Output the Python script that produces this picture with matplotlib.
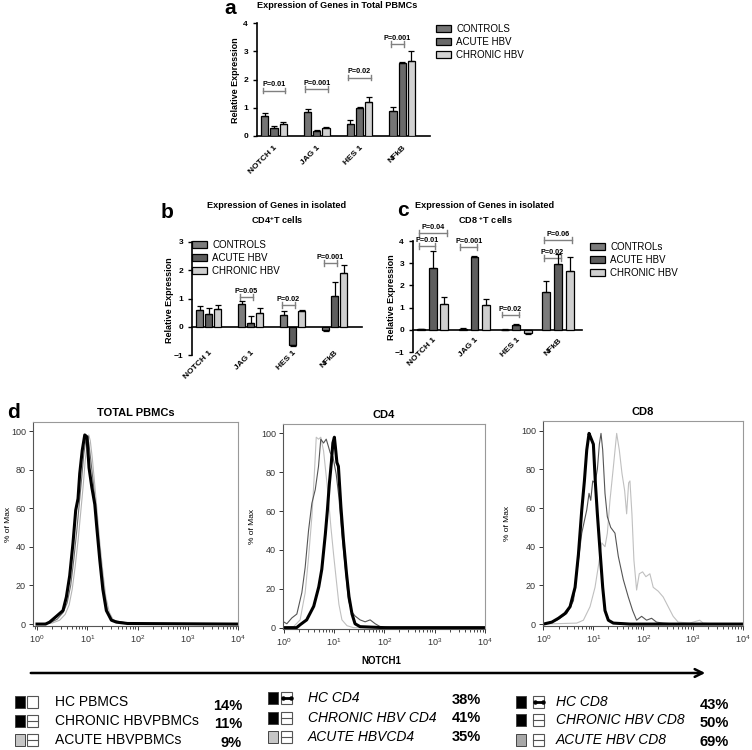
import numpy as np
import matplotlib
matplotlib.use("Agg")
import matplotlib.pyplot as plt
from matplotlib.patches import Rectangle, Patch

plt.rcParams['font.family'] = ['Liberation Sans', 'DejaVu Sans']
plt.rcParams['mathtext.default'] = 'regular'

W, H = 752, 750

genes = ["NOTCH 1", "JAG 1", "HES 1", "NFkB"]
groups = ["CONTROLS", "ACUTE HBV", "CHRONIC HBV"]

# panel a - total PBMCs
a_vals = [[0.70, 0.84, 0.41, 0.90],
          [0.29, 0.18, 1.00, 2.60],
          [0.41, 0.29, 1.19, 2.67]]
a_errs = [[0.12, 0.12, 0.17, 0.13],
          [0.06, 0.03, 0.03, 0.02],
          [0.08, 0.04, 0.19, 0.33]]
a_pvals = [(0, 0, 2, 1.61, "P=0.01"), (1, 0, 2, 1.66, "P=0.001"),
           (2, 0, 2, 2.07, "P=0.02"), (3, 0, 1, 3.25, "P=0.001")]

# panel b - CD4+ T cells
b_vals = [[0.59, 0.82, 0.41, -0.10],
          [0.45, 0.15, -0.65, 1.10],
          [0.64, 0.49, 0.56, 1.90]]
b_errs = [[0.14, 0.10, 0.15, 0.04],
          [0.22, 0.24, 0.03, 0.50],
          [0.12, 0.16, 0.03, 0.30]]
b_pvals = [(1, 0, 1, 1.05, "P=0.05"), (2, 0, 1, 0.78, "P=0.02"),
           (3, 0, 1, 2.26, "P=0.001")]

# panel c - CD8+ T cells
c_vals = [[0.02, 0.05, 0.01, 1.70],
          [2.80, 3.30, 0.20, 2.95],
          [1.18, 1.10, -0.15, 2.63]]
c_errs = [[0.01, 0.02, 0.01, 0.52],
          [0.75, 0.02, 0.08, 0.48],
          [0.32, 0.30, 0.02, 0.67]]
c_pvals = [(0, 0, 2, 4.36, "P=0.04"), (0, 0, 1, 3.77, "P=0.01"),
           (1, 0, 1, 3.73, "P=0.001"), (2, 0, 1, 0.68, "P=0.02"),
           (3, 0, 1, 3.23, "P=0.02"), (3, 0, 2, 4.05, "P=0.06")]

# panel d - NOTCH1 histograms (log10 intensity, % of max)
pbmc_hc_x = [0.0, 0.17, 0.25, 0.385, 0.517, 0.584, 0.65, 0.716, 0.77, 0.816, 0.85, 0.90, 0.95,
             0.995, 1.035, 1.09, 1.15, 1.19, 1.25, 1.31, 1.38, 1.48, 1.58, 1.8, 4.0]
pbmc_hc_y = [0, 0, 1, 4, 7, 14, 25, 42, 59, 65, 78, 90, 98, 97, 81, 71, 62, 50, 33, 18, 7, 2, 1, 0.3, 0]
pbmc_chr_x = [0.0, 0.25, 0.4, 0.52, 0.6, 0.67, 0.73, 0.79, 0.84, 0.89, 0.93, 0.97, 1.0, 1.03,
              1.07, 1.12, 1.17, 1.22, 1.28, 1.34, 1.4, 1.48, 1.6, 1.75, 2.0, 4.0]
pbmc_chr_y = [0, 0.5, 2.5, 6, 11, 20, 33, 48, 62, 76, 88, 95, 97, 94, 85, 73, 60, 45, 30, 16, 7,
              2.5, 1.5, 0.8, 0.3, 0]
pbmc_ac_x = [0.0, 0.3, 0.45, 0.56, 0.64, 0.7, 0.76, 0.82, 0.87, 0.92, 0.96, 1.0, 1.03, 1.06,
             1.1, 1.15, 1.2, 1.25, 1.31, 1.37, 1.44, 1.52, 1.65, 1.8, 2.1, 4.0]
pbmc_ac_y = [0, 0.5, 2, 5, 10, 18, 30, 44, 58, 72, 85, 94, 98, 95, 86, 72, 57, 42, 27, 14, 6, 2,
             1, 0.5, 0.2, 0]

cd4_hc_x = [0.0, 0.26, 0.33, 0.46, 0.60, 0.70, 0.76, 0.83, 0.87, 0.91, 0.95, 0.98, 1.01, 1.03,
            1.06, 1.09, 1.14, 1.19, 1.25, 1.30, 1.36, 1.42, 1.52, 2.0, 4.0]
cd4_hc_y = [0, 0, 1.5, 4, 11, 21, 30, 48, 60, 74, 85, 95, 98, 93, 85, 83, 62, 45, 28, 16, 7, 2,
            0.5, 0, 0]
cd4_chr_x = [0.0, 0.066, 0.166, 0.265, 0.364, 0.43, 0.497, 0.563, 0.63, 0.695, 0.74, 0.795,
             0.848, 0.894, 0.927, 0.98, 1.046, 1.10, 1.16, 1.225, 1.29, 1.36, 1.42, 1.52, 1.62,
             1.72, 1.82, 1.92, 2.12, 4.0]
cd4_chr_y = [3, 2, 5, 7, 18, 31, 50, 64, 71, 83, 97, 95, 97, 93, 90, 88, 79, 67, 48, 31, 14, 8,
             6, 4, 3, 4, 2, 0.5, 0, 0]
cd4_ac_x = [0.0, 0.2, 0.33, 0.43, 0.497, 0.563, 0.61, 0.65, 0.695, 0.74, 0.795, 0.848, 0.894,
            0.94, 0.993, 1.046, 1.10, 1.16, 1.26, 1.39, 4.0]
cd4_ac_y = [0, 0.5, 4, 18, 36, 57, 78, 98, 97, 98, 91, 78, 66, 52, 38, 25, 12, 4, 1, 0, 0]

cd8_hc_x = [0.0, 0.167, 0.30, 0.433, 0.533, 0.633, 0.70, 0.767, 0.82, 0.867, 0.913, 0.953, 1.0,
            1.04, 1.08, 1.133, 1.187, 1.233, 1.30, 1.40, 1.733, 4.0]
cd8_hc_y = [0, 1, 3, 5.5, 9, 19, 36, 59, 74, 90, 98.6, 96, 93, 73, 57, 38, 19, 7, 2, 0.5, 0, 0]
cd8_chr_x = [0.0, 0.267, 0.467, 0.60, 0.70, 0.767, 0.867, 0.913, 0.947, 0.987, 1.033, 1.08, 1.12,
             1.153, 1.187, 1.233, 1.28, 1.347, 1.433, 1.50, 1.60, 1.70, 1.787, 1.867, 1.967,
             2.067, 2.167, 2.267, 2.40, 2.667, 4.0]
cd8_chr_y = [0, 2, 5.5, 12, 33, 47, 59, 67.6, 64, 74, 73, 80, 93, 98.6, 90, 67.6, 55.5, 50, 47,
             35, 23, 14, 7, 2, 4, 2, 3, 1, 0.5, 0, 0]
cd8_ac_x = [0.0, 0.667, 0.80, 0.933, 1.033, 1.10, 1.167, 1.233, 1.28, 1.333, 1.40, 1.467, 1.52,
            1.573, 1.627, 1.667, 1.707, 1.733, 1.773, 1.813, 1.867, 1.92, 1.987, 2.053, 2.133,
            2.20, 2.30, 2.40, 2.50, 2.60, 2.70, 2.933, 3.133, 3.20, 3.467, 4.0]
cd8_ac_y = [0, 0.5, 2, 9, 19, 30, 42, 40, 47, 64, 81, 98.6, 90, 78, 69, 57, 73, 74, 57, 33, 17.6,
            26, 27, 24.5, 26, 19, 17, 14, 9, 4, 1, 0.5, 2, 0.5, 0, 0]

legend_rows = [
    ["HC PBMCS", "CHRONIC HBVPBMCs", "ACUTE HBVPBMCs"],
    ["HC CD4", "CHRONIC HBV CD4", "ACUTE HBVCD4"],
    ["HC CD8", "CHRONIC HBV CD8", "ACUTE HBV CD8"],
]
legend_pcts = [["14%", "11%", "9%"], ["38%", "41%", "35%"], ["43%", "50%", "69%"]]


def px(x, y, w, h):
    return [x / W, 1 - (y + h) / H, w / W, h / H]


def bar_panel(ax, vals, errs, pvals, colors, ylim, d, w, pad):
    x = np.arange(len(genes))
    for i in range(3):
        v = np.array(vals[i])
        e = np.array(errs[i])
        yerr = [np.where(v < 0, e, 0), np.where(v >= 0, e, 0)]
        ax.bar(x + (i - 1) * d, v, w, color=colors[i], edgecolor='black', linewidth=0.9,
               yerr=yerr, error_kw=dict(ecolor='black', elinewidth=0.9, capsize=2, capthick=0.9),
               zorder=3)
    ax.set_ylim(*ylim)
    ax.set_xlim(-0.4, 3.65)
    ax.set_yticks(range(int(ylim[0]), int(ylim[1]) + 1))
    ax.spines['top'].set_visible(False)
    ax.spines['right'].set_visible(False)
    ax.spines['bottom'].set_position(('data', 0))
    ax.spines['left'].set_linewidth(1.2)
    ax.spines['bottom'].set_linewidth(1.2)
    ax.set_xticks(x)
    ax.set_xticklabels(genes, rotation=45, ha='right', va='top', rotation_mode='anchor',
                       fontsize=6, fontweight='bold')
    ax.tick_params(axis='x', length=0, pad=pad)
    ax.tick_params(axis='y', length=3, width=1, labelsize=6)
    for t in ax.get_yticklabels():
        t.set_fontweight('bold')
    tick = (ylim[1] - ylim[0]) * 0.025
    for g, s1, s2, yv, lab in pvals:
        x1 = g + (s1 - 1) * d - w * 0.3
        x2 = g + (s2 - 1) * d + w * 0.3
        ax.plot([x1, x2], [yv, yv], color='#808080', lw=1, clip_on=False)
        ax.plot([x1, x1], [yv - tick, yv + tick], color='#808080', lw=1, clip_on=False)
        ax.plot([x2, x2], [yv - tick, yv + tick], color='#808080', lw=1, clip_on=False)
        ax.annotate(lab, ((x1 + x2) / 2, yv), xytext=(0, 1.5), textcoords='offset points',
                    ha='center', va='bottom', fontsize=5.2, fontweight='bold',
                    annotation_clip=False)


def hist_panel(ax, curves, xl, yl, title, label_x):
    for xs, ys, c, lw in curves:
        ax.plot(10 ** np.array(xs), ys, color=c, lw=lw)
    ax.set_xscale('log')
    ax.set_xlim(*xl)
    ax.set_ylim(*yl)
    ax.set_yticks([0, 20, 40, 60, 80, 100])
    ax.set_xticks([1, 10, 100, 1000, 10000])
    ax.tick_params(labelsize=6.5, length=3, width=0.7, colors='#333333', pad=2)
    ax.tick_params(which='minor', length=1.8, width=0.5)
    for s in ['top', 'right']:
        ax.spines[s].set_color('#999999')
    for s in ['left', 'bottom']:
        ax.spines[s].set_color('#555555')
    for s in ax.spines.values():
        s.set_linewidth(0.8)
    ax.set_ylabel('% of Max', fontsize=6)
    ax.yaxis.set_label_coords(label_x, 0.5)
    ax.set_title(title, fontsize=8, fontweight='bold', pad=4)


def main():
    fig = plt.figure(figsize=(W / 100, H / 100), dpi=100)

    ov = fig.add_axes([0, 0, 1, 1])
    ov.set_xlim(0, W)
    ov.set_ylim(H, 0)
    ov.axis('off')

    cols_a = ['#757575', '#6a6a6a', '#d2d2d2']
    cols_b = ['#7c7c7c', '#5e5e5e', '#cfcfcf']

    ax_a = fig.add_axes(px(257, 23, 173, 113))
    bar_panel(ax_a, a_vals, a_errs, a_pvals, cols_a, (0, 4), 0.216, 0.17, 6)
    ax_b = fig.add_axes(px(192, 242, 170, 113))
    bar_panel(ax_b, b_vals, b_errs, b_pvals, cols_b, (-1, 3), 0.214, 0.17, 16)
    ax_c = fig.add_axes(px(413, 241, 169, 111))
    bar_panel(ax_c, c_vals, c_errs, c_pvals, cols_b, (-1, 4), 0.28, 0.19, 5)
    ax_c.set_xlim(-0.47, 3.57)

    for ax, pos, labs in [(ax_a, (436, 24), groups), (ax_b, (192, 240), groups),
                          (ax_c, (590, 242), ["CONTROLs", "ACUTE HBV", "CHRONIC HBV"])]:
        cols = cols_a if ax is ax_a else cols_b
        handles = [Patch(facecolor=cols[i], edgecolor='black', linewidth=0.9, label=labs[i])
                   for i in range(3)]
        fig.legend(handles=handles, loc='upper left', bbox_to_anchor=(pos[0] / W, 1 - pos[1] / H),
                   frameon=False, fontsize=7, handlelength=1.5, handleheight=0.75,
                   labelspacing=0.3, handletextpad=0.6, borderaxespad=0, borderpad=0)

    ov.text(230, 9, "a", fontsize=15, fontweight='bold', ha='center', va='center')
    ov.text(167, 213, "b", fontsize=15, fontweight='bold', ha='center', va='center')
    ov.text(403, 210, "c", fontsize=15, fontweight='bold', ha='center', va='center')
    ov.text(13, 412, "d", fontsize=15, fontweight='bold', ha='center', va='center')

    ov.text(337, 6, "Expression of Genes in Total PBMCs", fontsize=6.6, fontweight='bold',
            ha='center', va='center')
    ov.text(277, 206, "Expression of Genes in isolated", fontsize=6.6, fontweight='bold',
            ha='center', va='center')
    ov.text(277, 220, "CD4$^{+}$T cells", fontsize=6.6, fontweight='bold', ha='center', va='center')
    ov.text(485, 206, "Expression of Genes in isolated", fontsize=6.6, fontweight='bold',
            ha='center', va='center')
    ov.text(485, 220, "CD8 $^{+}$T cells", fontsize=6.6, fontweight='bold', ha='center', va='center')
    for xx, yy in [(236, 80), (170, 300), (392, 297)]:
        ov.text(xx, yy, "Relative Expression", fontsize=6.5, fontweight='bold', rotation=90,
                ha='center', va='center')

    h1 = fig.add_axes(px(33, 422, 205, 204))
    hist_panel(h1, [(pbmc_ac_x, pbmc_ac_y, '#b5b5b5', 0.8), (pbmc_chr_x, pbmc_chr_y, '#6a6a6a', 0.8),
                    (pbmc_hc_x, pbmc_hc_y, 'black', 2.2)],
               (10 ** -0.08, 10 ** 4), (-1, 104.7), "TOTAL PBMCs", -0.10)
    h2 = fig.add_axes(px(283, 424, 202, 205))
    hist_panel(h2, [(cd4_ac_x, cd4_ac_y, '#c0c0c0', 0.8), (cd4_chr_x, cd4_chr_y, '#555555', 0.8),
                    (cd4_hc_x, cd4_hc_y, 'black', 2.2)],
               (10 ** -0.01, 10 ** 4), (-0.7, 104.8), "CD4", -0.135)
    h3 = fig.add_axes(px(543, 421, 200, 205))
    hist_panel(h3, [(cd8_ac_x, cd8_ac_y, '#c0c0c0', 0.8), (cd8_chr_x, cd8_chr_y, '#555555', 0.8),
                    (cd8_hc_x, cd8_hc_y, 'black', 2.2)],
               (10 ** -0.01, 10 ** 4), (-1, 105), "CD8", -0.16)

    ov.text(381, 661, "NOTCH1", fontsize=7, fontweight='bold', ha='center', va='center')
    ov.annotate('', xy=(708, 673), xytext=(28, 673),
                arrowprops=dict(arrowstyle='->', lw=1.8, color='black', mutation_scale=14))

    # bottom legend (pixel coords)
    sq_x = [15, 268, 516]
    box_x = [27, 281, 533]
    txt_x = [55, 308, 556]
    pct_x = [242, 481, 729]
    row_y = [[702, 721, 740], [698, 718, 737], [702, 720, 740]]
    pct_y = [[706, 724, 743], [700, 718, 737], [705, 723, 742]]
    acute_col = ['#c6c6c6', '#c6c6c6', '#a8a8a8']
    for g in range(3):
        for r in range(3):
            yc = row_y[g][r]
            fc = 'black' if r < 2 else acute_col[g]
            ov.add_patch(Rectangle((sq_x[g], yc - 6), 10, 12, facecolor=fc, edgecolor='#444444', lw=0.7))
            ov.add_patch(Rectangle((box_x[g], yc - 6), 11, 12, facecolor='white', edgecolor='#555555', lw=0.8))
            if r == 0 and g > 0:
                ov.plot([box_x[g] + 1.5, box_x[g] + 9.5], [yc, yc], color='black', lw=2,
                        marker='o', markersize=2.2)
            elif r > 0:
                ov.plot([box_x[g], box_x[g] + 11], [yc, yc], color='#555555', lw=0.8)
            ov.text(txt_x[g], yc, legend_rows[g][r], fontsize=10, ha='left', va='center',
                    style='normal' if g == 0 else 'italic')
            ov.text(pct_x[g], pct_y[g][r], legend_pcts[g][r], fontsize=10.5, fontweight='bold',
                    ha='right', va='center')

    fig.savefig("out.png", dpi=100)


if __name__ == "__main__":
    main()
